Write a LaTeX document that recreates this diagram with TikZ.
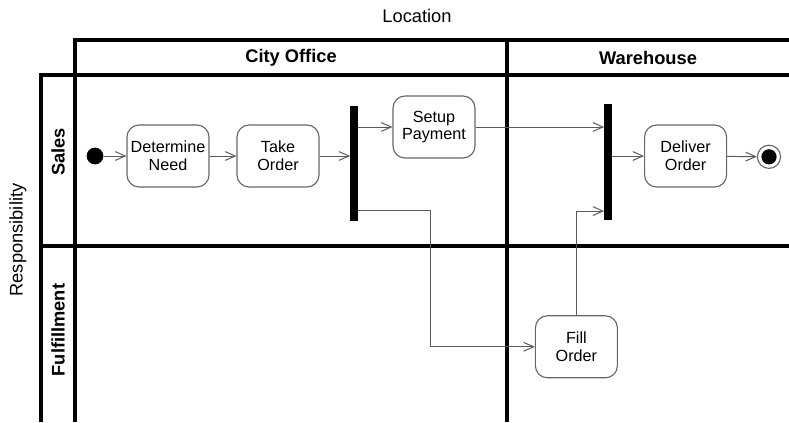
\documentclass[tikz,border=0pt]{standalone}
\usepackage{fontspec}
\setmainfont{Liberation Sans}
\usepackage{tikz}
\usetikzlibrary{arrows.meta}
\usetikzlibrary{calc}

\tikzset{
  action/.style={draw=black!60, line width=0.8pt, rounded corners=0.3cm, minimum width=2.05cm,
    minimum height=1.55cm, inner sep=0pt, align=center, font=\fontsize{11.5}{12.5}\selectfont},
  bar/.style={fill=black, minimum width=0.18cm, inner sep=0pt},
  flow/.style={draw=black!65, line width=0.7pt, -{Straight Barb[length=0.25cm,width=0.22cm]}},
  lane/.style={line width=2.2pt},
  lanelabel/.style={font=\fontsize{13}{15}\selectfont\bfseries},
  axislabel/.style={font=\fontsize{13}{15}\selectfont}
}

\begin{document}
\begin{tikzpicture}
                \useasboundingbox (0,0) rectangle (19.725,10.55);
                \draw[lane] (19.725,9.55) -- (1.875,9.55) -- (1.875,0);
                \draw[lane] (19.725,8.675) -- (1.025,8.675) -- (1.025,0);
                \draw[lane] (1.025,4.4) -- (19.725,4.4);
                \draw[lane] (12.675,9.55) -- (12.675,0);
                \node[axislabel] (location) at (10.425,10.15) {Location};
                \node[axislabel, rotate=90] (responsibility) at (0.45,4.55) {Responsibility};
                \node[lanelabel] (city) at (7.275,9.11) {City Office};
                \node[lanelabel] (warehouse) at (16.2,9.11) {Warehouse};
                \node[lanelabel, rotate=90] (sales) at (1.45,6.75) {Sales};
                \node[lanelabel, rotate=90] (fulfillment) at (1.45,2.3) {Fulfillment};
                \node[circle, fill, minimum size=0.42cm, inner sep=0pt] (start) at (2.375,6.65) {};
                \node[action] (determine) at (4.2,6.65) {Determine\\Need};
                \node[action] (take) at (6.95,6.65) {Take\\Order};
                \node[bar, minimum height=2.875cm] (fork) at (8.85,6.46) {};
                \node[action] (setup) at (10.85,7.375) {Setup\\Payment};
                \node[bar, minimum height=2.9cm] (join) at (15.2,6.5) {};
                \node[action] (deliver) at (17.14,6.65) {Deliver\\Order};
                \node[circle, draw=black!60, line width=0.8pt, minimum size=0.58cm, inner sep=0pt] (finish) at (19.225,6.63) {};
                \node[circle, fill, minimum size=0.38cm, inner sep=0pt] (finishdot) at (finish) {};
                \node[action] (fill) at (14.41,1.88) {Fill\\Order};
                \draw[flow] (start) -- (determine);
                \draw[flow] (determine) -- (take);
                \draw[flow] (take) -- (take -| fork.west);
                \draw[flow] (fork.east |- setup) -- (setup);
                \draw[flow] (setup) -- (setup -| join.west);
                \draw[flow] ([yshift=0.28cm]fork.south east) -| ([xshift=-2.6cm]fill.west) -- (fill);
                \draw[flow] (fill.north) |- ([yshift=0.23cm]join.south west);
                \draw[flow] (join.east |- deliver) -- (deliver);
                \draw[flow] (deliver) -- (finish);
            \end{tikzpicture}
\end{document}
